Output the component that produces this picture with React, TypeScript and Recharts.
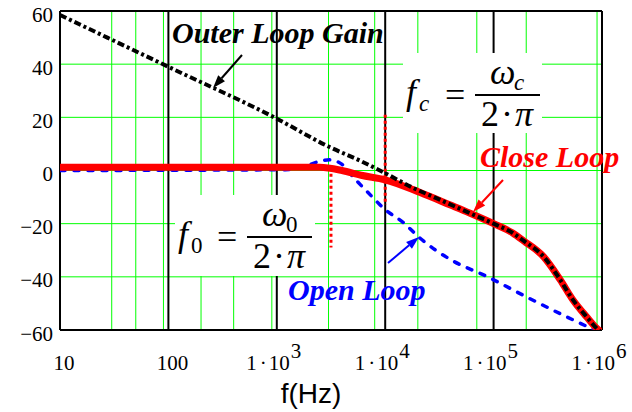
import { CartesianGrid, Line, LineChart, ReferenceLine, XAxis, YAxis } from "recharts";

// frequency axis / gain axis
const freqTicks = [10, 100, 1e3, 1e4, 1e5, 1e6];
const gainTicks = [-60, -40, -20, 0, 20, 40, 60];

// outer loop gain (dash-dot)
const outerFreq = [10, 100, 1000, 3000, 6000, 10000, 18000, 30000, 60000, 100000, 150000, 190000, 290000, 410000, 540000, 720000, 900000, 1000000];
const outerGain = [58.5, 39, 19.5, 9, 3.5, -1, -6.5, -10.5, -16, -20, -23.5, -26.5, -32.5, -41, -48.7, -55, -59.5, -61];

// closed loop response
const closeFreq = [10, 1000, 2500, 4000, 6000, 10000, 21000, 40000, 60000, 100000, 150000, 190000, 290000, 410000, 540000, 720000, 900000, 1000000];
const closeGain = [1.2, 1.2, 1.2, 0, -1.8, -3.5, -8.3, -13, -16, -20, -23.5, -26.5, -32.5, -41, -48.7, -55, -59.5, -61];

// open loop response
const openFreq = [10, 1200, 1800, 2400, 3100, 4000, 5100, 6800, 10000, 14600, 21000, 40000, 88000, 200000, 470000, 810000, 1000000];
const openGain = [0, 0.3, 1.5, 3.3, 4, 2.3, -2.6, -7.9, -14.7, -19.5, -25.5, -33.5, -40, -47.5, -55, -59.5, -61];

// f0 and fc markers: [freq, top dB, bottom dB]
const f0Marker = [3160, 1, -29];
const fcMarker = [10000, 21, -13];

const toRows = (fs: number[], gs: number[]) => fs.map((f, i) => ({ f, db: gs[i] }));
const outerData = toRows(outerFreq, outerGain);
const closeData = toRows(closeFreq, closeGain);
const openData = toRows(openFreq, openGain);

const minorFreqs: number[] = [];
for (const d of [10, 100, 1e3, 1e4, 1e5]) {
  for (let k = 2; k <= 9; k++) minorFreqs.push(k * d);
}

const serif = { fontFamily: "'Liberation Serif', 'Times New Roman', serif" };
const GREEN = "#00ff00";

function FreqTick({ x, y, payload }: any) {
  const v = payload.value as number;
  const exp = Math.round(Math.log10(v));
  if (exp <= 2) {
    return (
      <text x={x + 4} y={y + 40} textAnchor="middle" style={serif} fontSize={21} fill="#000">
        {String(v)}
      </text>
    );
  }
  return (
    <text x={x - 3} y={y + 40} textAnchor="middle" style={serif} fontSize={21} fill="#000">
      <tspan>1</tspan>
      <tspan dx={3}>·</tspan>
      <tspan dx={2}>10</tspan>
      <tspan dx={1} dy={-12}>{exp}</tspan>
    </text>
  );
}

function GainTick({ x, y, payload }: any) {
  const v = payload.value as number;
  const s = v < 0 ? "\u2212" + Math.abs(v) : String(v);
  return (
    <text x={x - 7} y={y + 10.5} textAnchor="end" style={serif} fontSize={21} fill="#000">
      {s}
    </text>
  );
}

function Arrow({ x1, y1, x2, y2, color }: { x1: number; y1: number; x2: number; y2: number; color: string }) {
  const a = Math.atan2(y2 - y1, x2 - x1);
  const len = 13;
  const hw = 4.5;
  const bx = x2 - len * Math.cos(a);
  const by = y2 - len * Math.sin(a);
  const px = -Math.sin(a) * hw;
  const py = Math.cos(a) * hw;
  return (
    <g>
      <line x1={x1} y1={y1} x2={bx} y2={by} stroke={color} strokeWidth={2} />
      <polygon points={`${x2},${y2} ${bx + px},${by + py} ${bx - px},${by - py}`} fill={color} />
    </g>
  );
}

// f_x = omega_x / (2·pi) inside a white box
function Formula({ bx, by, w, h, sub, italicSub }: { bx: number; by: number; w: number; h: number; sub: string; italicSub: boolean }) {
  const bar = by + 42;
  const subStyle = italicSub ? "italic" : "normal";
  return (
    <g style={serif} fill="#000">
      <rect x={bx} y={by} width={w} height={h} fill="#fff" />
      <text x={bx + 3} y={bar + 9} fontSize={36} fontStyle="italic">f</text>
      <text x={bx + 16} y={bar + 16} fontSize={23} fontStyle={subStyle}>{sub}</text>
      <text x={bx + 42} y={bar + 12} fontSize={36}>=</text>
      <line x1={bx + 72} y1={bar} x2={bx + 137} y2={bar} stroke="#000" strokeWidth={2} />
      <text x={bx + 87} y={bar - 11} fontSize={36} fontStyle="italic">ω</text>
      <text x={bx + 111} y={bar - 5} fontSize={23} fontStyle={subStyle}>{sub}</text>
      <text x={bx + 104} y={bar + 31} fontSize={36} textAnchor="middle">
        <tspan>2</tspan>
        <tspan dx={2}>·</tspan>
        <tspan dx={2} fontStyle="italic">π</tspan>
      </text>
    </g>
  );
}

export default function App() {
  return (
    <div style={{ position: "absolute", left: 0, top: 0, width: 632, height: 412, background: "#fff" }}>
      <LineChart width={632} height={412} margin={{ top: 11, right: 30, left: 10, bottom: 20 }}>
        <CartesianGrid
          stroke={GREEN}
          strokeWidth={1}
          verticalValues={minorFreqs}
          horizontalValues={[-40, -20, 0, 20, 40]}
        />
        <CartesianGrid
          stroke="#000"
          strokeWidth={2}
          verticalValues={freqTicks}
          horizontalValues={[-60, 60]}
        />
        <XAxis
          dataKey="f"
          type="number"
          scale="log"
          domain={[10, 1e6]}
          ticks={freqTicks}
          allowDataOverflow
          axisLine={false}
          tickLine={false}
          tickSize={0}
          tickMargin={0}
          height={62}
          tick={<FreqTick />}
        />
        <YAxis
          type="number"
          domain={[-60, 60]}
          ticks={gainTicks}
          allowDataOverflow
          axisLine={false}
          tickLine={false}
          tickSize={0}
          tickMargin={0}
          width={50}
          tick={<GainTick />}
        />
        <ReferenceLine
          segment={[{ x: f0Marker[0], y: f0Marker[1] }, { x: f0Marker[0], y: f0Marker[2] }]}
          stroke="#ff0000"
          strokeWidth={3}
          strokeDasharray="3 3"
        />
        <ReferenceLine
          segment={[{ x: fcMarker[0], y: fcMarker[1] }, { x: fcMarker[0], y: fcMarker[2] }]}
          stroke="#ff0000"
          strokeWidth={3}
          strokeDasharray="3 3"
        />
        <Line
          data={openData}
          dataKey="db"
          type="monotone"
          stroke="#0000ff"
          strokeWidth={3.5}
          strokeDasharray="5 9"
          strokeLinecap="round"
          dot={false}
          isAnimationActive={false}
        />
        <Line
          data={closeData}
          dataKey="db"
          type="monotone"
          stroke="#ff0000"
          strokeWidth={7}
          dot={false}
          isAnimationActive={false}
        />
        <Line
          data={outerData}
          dataKey="db"
          type="monotone"
          stroke="#000"
          strokeWidth={4}
          strokeDasharray="7 3 3 3"
          dot={false}
          isAnimationActive={false}
        />
      </LineChart>
      <svg width={632} height={412} style={{ position: "absolute", left: 0, top: 0, pointerEvents: "none" }}>
        <Formula bx={403} by={53} w={139} h={80} sub="c" italicSub />
        <Formula bx={175} by={195} w={140} h={81} sub="0" italicSub={false} />
        <g style={serif} fontSize={30} fontWeight="bold" fontStyle="italic">
          <text x={172} y={43} fill="#000">Outer Loop Gain</text>
          <text x={480} y={167} fill="#ff0000">Close Loop</text>
          <text x={288} y={300} fill="#0000ff">Open Loop</text>
        </g>
        <Arrow x1={242} y1={55} x2={213} y2={88} color="#000" />
        <Arrow x1={503} y1={180} x2={473} y2={212} color="#ff0000" />
        <Arrow x1={388} y1={263} x2={419} y2={237} color="#0000ff" />
        <text x={311} y={403} textAnchor="middle" fontFamily="'Liberation Sans', Arial, sans-serif" fontSize={28} fill="#000">
          f(Hz)
        </text>
      </svg>
    </div>
  );
}
